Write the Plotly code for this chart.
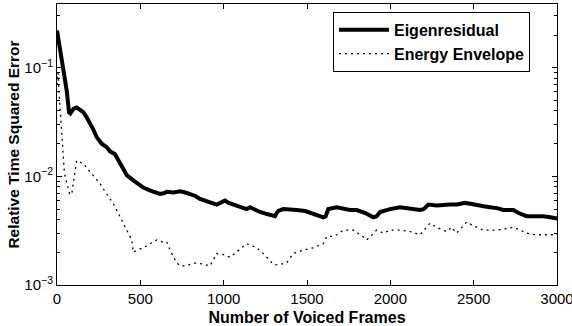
import plotly.graph_objects as go

# Eigenresidual curve
eig_x = [0, 7, 14, 26, 38, 48, 58, 66, 72, 80, 88, 100, 118, 135, 158, 178, 198, 218, 238, 268,
         298, 318, 348, 368, 388, 398, 420, 458, 490, 518, 560, 618, 640, 658, 700, 738, 770, 798,
         830, 858, 900, 938, 958, 980, 1008, 1030, 1058, 1100, 1138, 1158, 1190, 1218, 1260, 1308,
         1318, 1328, 1358, 1400, 1438, 1490, 1538, 1570, 1598, 1612, 1628, 1678, 1720, 1758, 1798,
         1850, 1898, 1918, 1938, 1998, 2058, 2118, 2178, 2200, 2228, 2278, 2320, 2358, 2400, 2448,
         2480, 2518, 2560, 2598, 2640, 2678, 2738, 2770, 2818, 2870, 2918, 2960, 3000]
eig_y = [0.22, 0.19, 0.166, 0.13, 0.10, 0.08, 0.062, 0.048, 0.039, 0.038, 0.040, 0.042, 0.043,
         0.041, 0.039, 0.035, 0.031, 0.027, 0.023, 0.020, 0.0186, 0.017, 0.016, 0.014, 0.0122,
         0.0114, 0.0102, 0.0092, 0.0085, 0.0079, 0.0074, 0.0069, 0.0070, 0.0072, 0.0071, 0.0073,
         0.0071, 0.0069, 0.0066, 0.0062, 0.0059, 0.0056, 0.0055, 0.0057, 0.0060, 0.0057, 0.0055,
         0.0053, 0.0050, 0.0052, 0.0049, 0.0047, 0.0045, 0.0043, 0.0046, 0.0048, 0.0050, 0.0049,
         0.0049, 0.0048, 0.00455, 0.0044, 0.0042, 0.0043, 0.0050, 0.0052, 0.0050, 0.0049, 0.0049,
         0.0046, 0.0042, 0.0043, 0.0047, 0.0050, 0.0052, 0.0050, 0.0049, 0.0050, 0.0055, 0.0054,
         0.0055, 0.0055, 0.0055, 0.0057, 0.0056, 0.0054, 0.0053, 0.0052, 0.0051, 0.0049, 0.0049,
         0.0046, 0.0043, 0.0043, 0.0043, 0.0042, 0.0041]

# Energy Envelope curve
env_x = [0, 6, 12, 20, 28, 36, 44, 52, 60, 68, 76, 88, 100, 118, 140, 160, 178, 200, 230, 258,
         290, 320, 338, 370, 398, 420, 448, 458, 480, 518, 560, 598, 630, 658, 678, 700, 718, 740,
         758, 800, 838, 880, 918, 958, 1000, 1038, 1090, 1138, 1170, 1198, 1230, 1258, 1290, 1308,
         1340, 1378, 1418, 1480, 1538, 1598, 1618, 1650, 1678, 1718, 1778, 1820, 1858, 1890, 1918,
         1958, 1998, 2058, 2120, 2178, 2238, 2278, 2338, 2368, 2398, 2458, 2500, 2558, 2638, 2690,
         2738, 2780, 2818, 2870, 2918, 2960, 3000]
env_y = [0.07, 0.09, 0.06, 0.04, 0.025, 0.016, 0.011, 0.0095, 0.0085, 0.0078, 0.0069, 0.0068,
         0.0095, 0.014, 0.0135, 0.013, 0.012, 0.011, 0.0098, 0.0086, 0.0072, 0.0062, 0.0056, 0.0045,
         0.0037, 0.0031, 0.0026, 0.0020, 0.0021, 0.0022, 0.0024, 0.0026, 0.0025, 0.0025, 0.0021,
         0.0018, 0.0016, 0.0015, 0.0015, 0.00155, 0.0016, 0.00155, 0.0015, 0.00195, 0.0019, 0.0018,
         0.0021, 0.0024, 0.0023, 0.0022, 0.0020, 0.0018, 0.0016, 0.00153, 0.00155, 0.0016, 0.00195,
         0.0021, 0.0022, 0.0024, 0.0028, 0.0028, 0.0029, 0.0032, 0.0032, 0.0029, 0.0026, 0.0029,
         0.0032, 0.0030, 0.0032, 0.0032, 0.0031, 0.0029, 0.0037, 0.0034, 0.0031, 0.0034, 0.0030,
         0.0038, 0.0035, 0.0032, 0.0032, 0.0033, 0.0034, 0.0032, 0.0030, 0.0029, 0.0029, 0.0029,
         0.0029]

ytick_vals = [1e-3, 1e-2, 1e-1]
ytick_text = ["10<sup>\u22123</sup>", "10<sup>\u22122</sup>", "10<sup>\u22121</sup>"]
yminor_vals = [m * 10 ** e for e in (-3, -2, -1) for m in range(2, 10) if m * 10 ** e < 0.39]

fig = go.Figure()

fig.add_trace(go.Scatter(
    x=eig_x, y=eig_y, mode='lines', name='Eigenresidual',
    line=dict(color='black', width=4),
))
fig.add_trace(go.Scatter(
    x=env_x, y=env_y, mode='lines', name='Energy Envelope',
    line=dict(color='black', width=1.3, dash='2px,4px'),
))

fig.update_layout(
    width=572, height=326,
    margin=dict(l=57, r=15, t=4, b=41),
    paper_bgcolor='white', plot_bgcolor='white',
    font=dict(family='Liberation Sans, Arial, sans-serif', size=15, color='black'),
    legend=dict(
        x=0.946, y=0.972, xanchor='right', yanchor='top',
        bordercolor='black', borderwidth=1, bgcolor='white',
        font=dict(size=16, weight='bold'),
        tracegroupgap=0, itemwidth=50,
    ),
    xaxis=dict(
        range=[0, 3000], tickvals=[0, 500, 1000, 1500, 2000, 2500, 3000],
        ticks='inside', ticklen=5, tickcolor='black',
        showline=True, linecolor='black', linewidth=1, mirror='ticks',
        showgrid=False, zeroline=False, automargin=False,
        ticklabeloverflow='allow', tickfont=dict(size=15),
        title=dict(text='Number of Voiced Frames', font=dict(size=16, weight='bold'), standoff=5),
    ),
    yaxis=dict(
        type='log', range=[-3, -0.413],
        tickvals=ytick_vals, ticktext=ytick_text,
        ticks='inside', ticklen=5, tickcolor='black',
        minor=dict(tickvals=yminor_vals, ticks='inside', ticklen=3, tickcolor='black', showgrid=False),
        showline=True, linecolor='black', linewidth=1, mirror='ticks',
        showgrid=False, zeroline=False, automargin=False,
        ticklabeloverflow='allow', tickfont=dict(size=15),
        title=dict(text='Relative Time Squared Error', font=dict(size=15.5, weight='bold'), standoff=0),
    ),
)

fig.write_html("out.html", config={'displayModeBar': False},
               post_script="document.body.style.margin='0';")
